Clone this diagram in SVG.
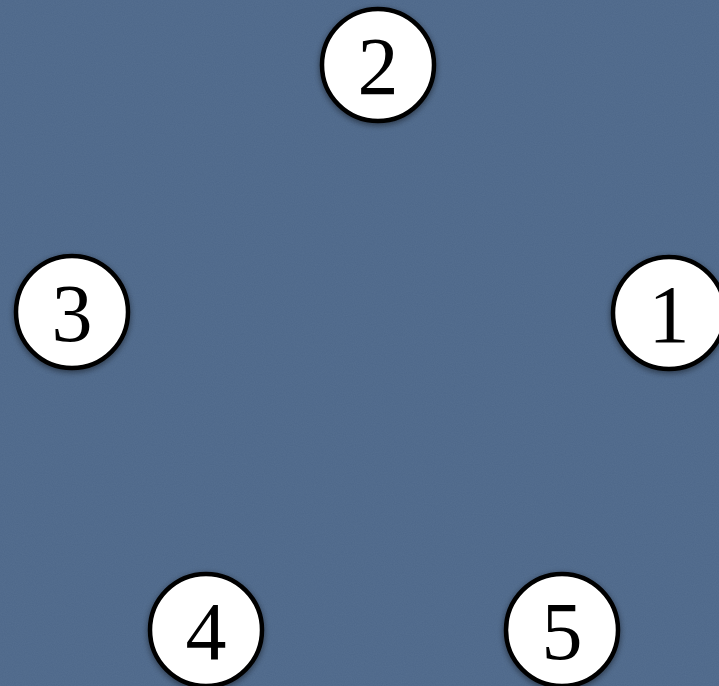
<svg xmlns="http://www.w3.org/2000/svg" width="719" height="686" viewBox="0 0 719 686">
<defs>
<filter id="noise" x="0" y="0" width="100%" height="100%">
<feTurbulence type="fractalNoise" baseFrequency="0.9" numOctaves="2" seed="3" result="t"/>
<feColorMatrix type="matrix" values="0 0 0 0 0.3  0 0 0 0 0.42  0 0 0 0 0.57  0 0 0 0.12 0"/>
</filter>
<filter id="shadow" x="-20%" y="-20%" width="140%" height="140%">
<feGaussianBlur in="SourceAlpha" stdDeviation="3"/>
<feOffset dx="0" dy="2" result="b"/>
<feComponentTransfer><feFuncA type="linear" slope="0.5"/></feComponentTransfer>
<feMerge><feMergeNode/><feMergeNode in="SourceGraphic"/></feMerge>
</filter>
</defs>
<style>
.node circle { fill: #ffffff; stroke: #000000; stroke-width: 4.5; }
.node text { font-family: "Liberation Serif", "Times New Roman", serif; font-size: 82px; fill: #000000; text-anchor: middle; }
</style>
<rect x="0" y="0" width="719" height="686" fill="#4d6789"/>
<rect x="0" y="0" width="719" height="686" filter="url(#noise)"/>
<g id="connectors"></g>
<g id="node1" class="node" filter="url(#shadow)"><circle cx="669" cy="313" r="56"/><text x="669" y="342">1</text></g>
<g id="node2" class="node" filter="url(#shadow)"><circle cx="378" cy="65" r="56"/><text x="378" y="94">2</text></g>
<g id="node3" class="node" filter="url(#shadow)"><circle cx="72" cy="312" r="56"/><text x="72" y="341">3</text></g>
<g id="node4" class="node" filter="url(#shadow)"><circle cx="206" cy="630" r="56"/><text x="206" y="659">4</text></g>
<g id="node5" class="node" filter="url(#shadow)"><circle cx="562" cy="630" r="56"/><text x="562" y="659">5</text></g>
</svg>
